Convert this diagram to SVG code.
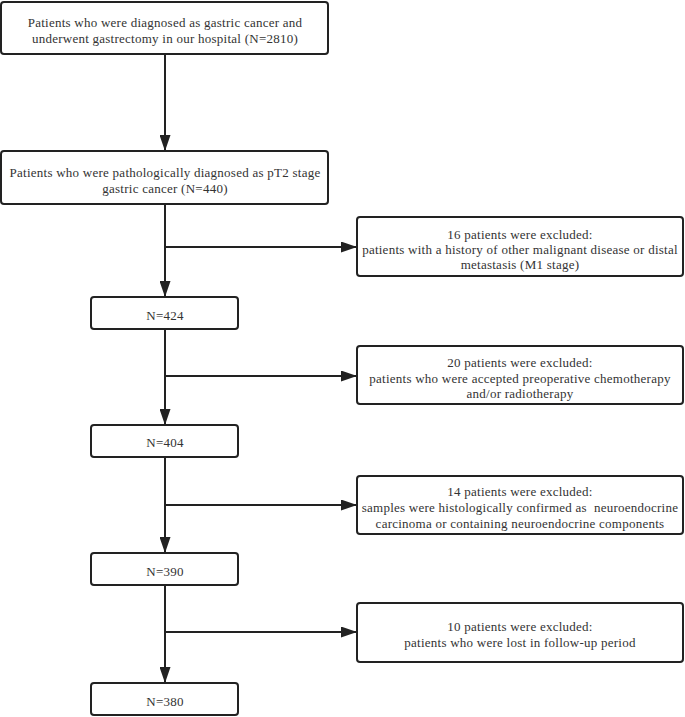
<svg xmlns="http://www.w3.org/2000/svg" width="685" height="717" viewBox="0 0 685 717">
<style>
.box{fill:#fff;stroke:#222;stroke-width:2}
.t{font-family:"Liberation Serif","Times New Roman",serif;font-size:13px;letter-spacing:0.25px;fill:#333;text-anchor:middle;white-space:pre}
.ln{stroke:#222;stroke-width:2;fill:none}
</style>
<defs>
<marker id="ah" markerUnits="userSpaceOnUse" markerWidth="16" markerHeight="11" refX="16" refY="5.5" orient="auto">
<path d="M0,0 L16,5.5 L0,11 z" fill="#222"/>
</marker>
</defs>
<rect width="685" height="717" fill="#fff"/>
<g id="connectors">
<line class="ln" x1="165" y1="54" x2="165" y2="151" marker-end="url(#ah)"/>
<line class="ln" x1="165" y1="204" x2="165" y2="297" marker-end="url(#ah)"/>
<line class="ln" x1="165" y1="247" x2="357" y2="247" marker-end="url(#ah)"/>
<line class="ln" x1="165" y1="329" x2="165" y2="425" marker-end="url(#ah)"/>
<line class="ln" x1="165" y1="376" x2="357" y2="376" marker-end="url(#ah)"/>
<line class="ln" x1="165" y1="457" x2="165" y2="553" marker-end="url(#ah)"/>
<line class="ln" x1="165" y1="505" x2="357" y2="505" marker-end="url(#ah)"/>
<line class="ln" x1="165" y1="585" x2="165" y2="683" marker-end="url(#ah)"/>
<line class="ln" x1="165" y1="632" x2="357" y2="632" marker-end="url(#ah)"/>
</g>
<g id="n1">
<rect class="box" x="1" y="2" width="327" height="52" rx="3"/>
<text class="t" x="165" y="27">Patients who were diagnosed as gastric cancer and</text>
<text class="t" x="165" y="43">underwent gastrectomy in our hospital (N=2810)</text>
</g>
<g id="n2">
<rect class="box" x="1" y="151" width="327" height="53" rx="3"/>
<text class="t" x="165" y="177">Patients who were pathologically diagnosed as pT2 stage</text>
<text class="t" x="165" y="193">gastric cancer (N=440)</text>
</g>
<g id="ex1">
<rect class="box" x="357" y="217" width="326" height="59" rx="3"/>
<text class="t" x="520" y="239">16 patients were excluded:</text>
<text class="t" x="520" y="254">patients with a history of other malignant disease or distal</text>
<text class="t" x="520" y="269">metastasis (M1 stage)</text>
</g>
<g id="n3">
<rect class="box" x="91" y="297" width="147" height="32" rx="3"/>
<text class="t" x="165" y="320">N=424</text>
</g>
<g id="ex2">
<rect class="box" x="357" y="346" width="326" height="58" rx="3"/>
<text class="t" x="520" y="367">20 patients were excluded:</text>
<text class="t" x="520" y="383">patients who were accepted preoperative chemotherapy</text>
<text class="t" x="520" y="398">and/or radiotherapy</text>
</g>
<g id="n4">
<rect class="box" x="91" y="425" width="147" height="32" rx="3"/>
<text class="t" x="165" y="447">N=404</text>
</g>
<g id="ex3">
<rect class="box" x="357" y="476" width="326" height="58" rx="3"/>
<text class="t" x="520" y="496">14 patients were excluded:</text>
<text class="t" x="520" y="512">samples were histologically confirmed as  neuroendocrine</text>
<text class="t" x="520" y="528">carcinoma or containing neuroendocrine components</text>
</g>
<g id="n5">
<rect class="box" x="91" y="553" width="147" height="32" rx="3"/>
<text class="t" x="165" y="576">N=390</text>
</g>
<g id="ex4">
<rect class="box" x="357" y="603" width="326" height="59" rx="3"/>
<text class="t" x="520" y="631">10 patients were excluded:</text>
<text class="t" x="520" y="647">patients who were lost in follow-up period</text>
</g>
<g id="n6">
<rect class="box" x="91" y="683" width="147" height="32" rx="3"/>
<text class="t" x="165" y="706">N=380</text>
</g>
</svg>
